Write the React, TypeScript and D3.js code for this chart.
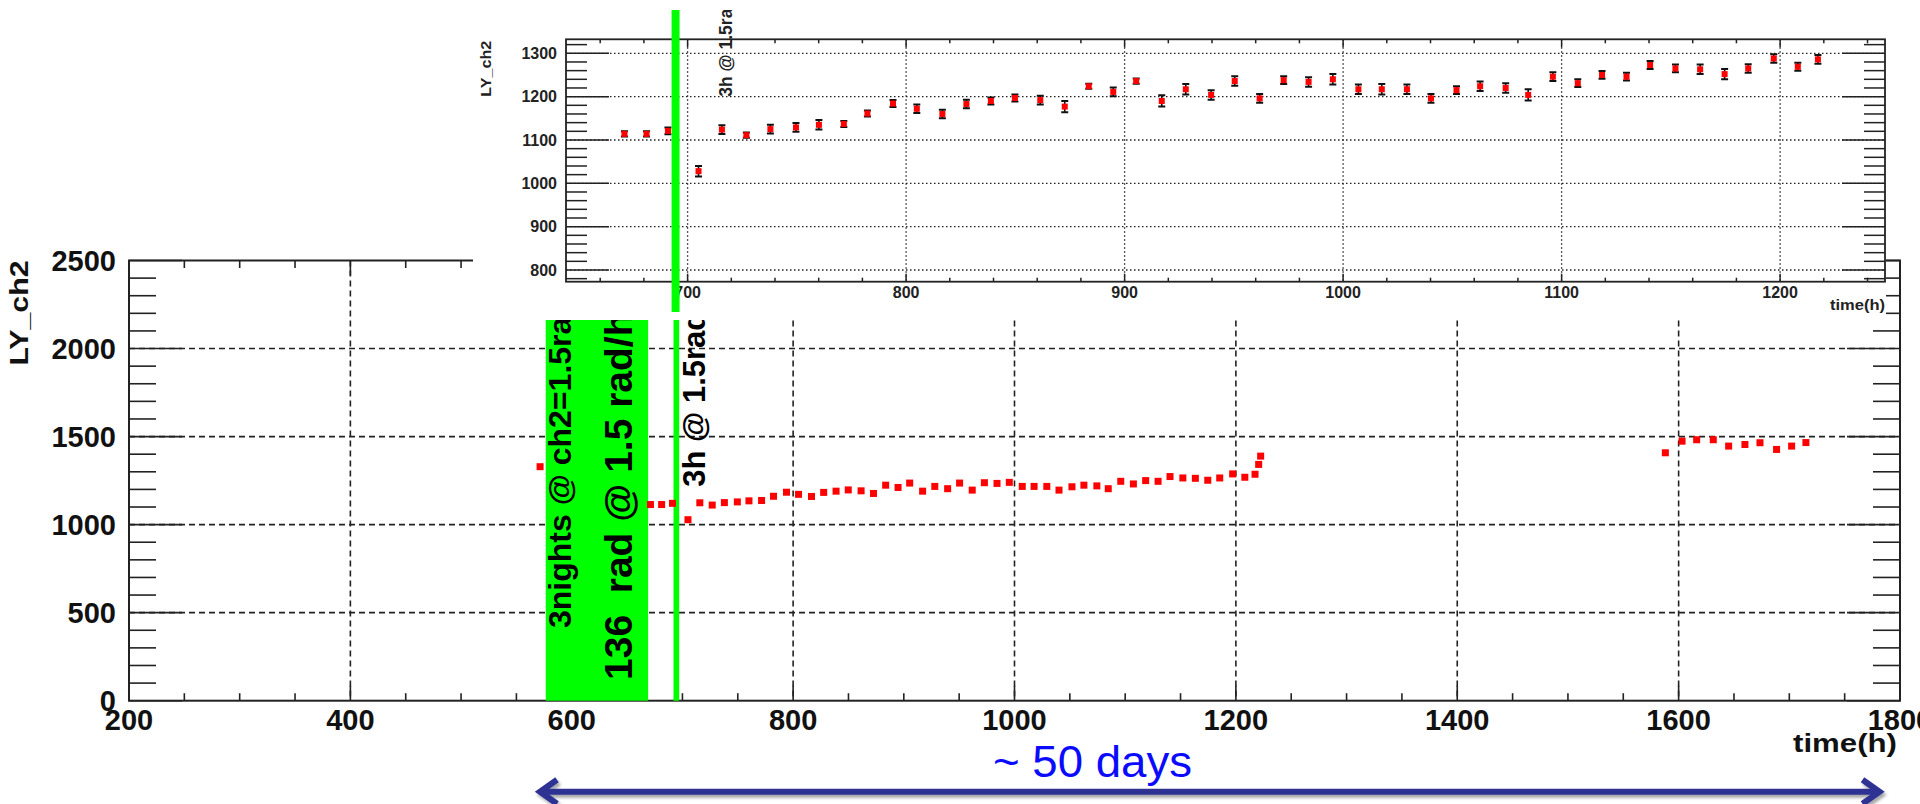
import React from 'react';
import * as d3 from 'd3';

// LY_ch2 vs time, one series; the inset shows the same points with errors
const timeH = [
  571.4,
  671.1, 681.2, 691.0, 705.0, 715.7, 726.9, 737.9, 749.6, 760.1, 771.5,
  782.3, 794.0, 804.9, 816.6, 827.6, 838.8, 849.8, 861.4, 872.6, 883.6,
  894.8, 905.3, 917.0, 928.0, 939.6, 950.4, 961.8, 972.8, 984.2, 995.3,
  1007.0, 1017.7, 1029.2, 1040.2, 1051.9, 1062.7, 1074.4, 1084.7, 1096.0, 1107.4,
  1118.5, 1129.7, 1140.5, 1152.1, 1163.4, 1174.6, 1185.4, 1197.1, 1208.1, 1217.3,
  1220.6, 1222.4,
  1588.0, 1603.1, 1616.3, 1631.3, 1645.2, 1659.9, 1673.5, 1688.5, 1702.1, 1715.0,
];
const lyCh2 = [
  1329,
  1114, 1114, 1121, 1028, 1124, 1111, 1125, 1129, 1135, 1137,
  1161, 1184, 1172, 1160, 1183, 1190, 1197, 1192, 1177, 1224,
  1211, 1236, 1190, 1217, 1204, 1236, 1196, 1238, 1234, 1240,
  1217, 1217, 1217, 1196, 1215, 1224, 1220, 1204, 1246, 1231,
  1250, 1246, 1273, 1265, 1263, 1252, 1265, 1288, 1269, 1286,
  1342, 1389,
  1408, 1474, 1482, 1482, 1446, 1455, 1465, 1427, 1446, 1466,
];
const lyErr = [
  10,
  6, 6, 8, 12, 10, 6, 10, 10, 11, 7,
  7, 8, 10, 10, 10, 8, 8, 10, 13, 6,
  10, 6, 13, 12, 11, 11, 10, 9, 11, 12,
  11, 12, 11, 10, 9, 11, 11, 13, 10, 9,
  9, 9, 9, 9, 11, 12, 10, 10, 9, 10,
  10, 10,
  10, 10, 10, 10, 10, 10, 10, 10, 10, 10,
];

const mainXTicks = [200, 400, 600, 800, 1000, 1200, 1400, 1600, 1800];
const mainYTicks = [0, 500, 1000, 1500, 2000, 2500];
const insetXTicks = [700, 800, 900, 1000, 1100, 1200];
const insetYTicks = [800, 900, 1000, 1100, 1200, 1300];

// irradiation periods (time in h)
const bandFrom = 576.5;
const bandTo = 669;
const shortIrr = 694.5;

const W = 1920;
const H = 804;
const main = { left: 129, right: 1900, top: 260.5, bottom: 700.7 };
const inset = { left: 566, right: 1885, top: 39.3, bottom: 281.7 };
const pad = { x0: 473, x1: 1886, y0: 0, y1: 320 };

const font = '"Liberation Sans", Arial, Helvetica, sans-serif';
const green = '#00ff00';
const red = '#ff0000';
const arrowCol = 'rgb(46,49,146)';

export default function App() {
  const x = d3.scaleLinear().domain([200, 1800]).range([main.left, main.right]);
  const y = d3.scaleLinear().domain([0, 2500]).range([main.bottom, main.top]);
  const xi = d3.scaleLinear().domain([644.35, 1248]).range([inset.left, inset.right]);
  const yi = d3.scaleLinear().domain([773, 1332.3]).range([inset.bottom, inset.top]);

  const pts = timeH.map((t, i) => ({ t, v: lyCh2[i], e: lyErr[i] }));
  const insetPts = pts.filter(p => p.t >= 644.35 && p.t <= 1248 && p.v >= 773 && p.v <= 1332.3);

  const mainYMinor = d3.range(0, 2501, 100);
  const mainXMinor = d3.range(200, 1801, 50);
  const insetYMinor = d3.range(780, 1332, 20);
  const insetXMinor = d3.range(660, 1248, 20);

  const arrowY = 791.7;
  const arrowL = 537;
  const arrowR = 1882.5;

  return (
    <svg width={W} height={H} style={{ position: 'absolute', left: 0, top: 0, background: '#fff' }}
      fontFamily={font}>
      <defs>
        <filter id="shadow" x="-5%" y="-100%" width="110%" height="300%">
          <feDropShadow dx="2" dy="3" stdDeviation="1.6" floodColor="#000" floodOpacity="0.35" />
        </filter>
        <clipPath id="insetClip">
          <rect x={inset.left} y={inset.top} width={inset.right - inset.left} height={inset.bottom - inset.top} />
        </clipPath>
        <clipPath id="topClip">
          <rect x={0} y={10} width={W} height={H} />
        </clipPath>
      </defs>

      {/* main grid */}
      <g stroke="#222" strokeWidth={1.6} strokeDasharray="6 4">
        {mainXTicks.slice(1, -1).map(t => (
          <line key={'gx' + t} x1={x(t)} x2={x(t)} y1={main.top} y2={main.bottom} />
        ))}
        {mainYTicks.slice(1, -1).map(v => (
          <line key={'gy' + v} x1={main.left} x2={main.right} y1={y(v)} y2={y(v)} />
        ))}
      </g>

      {/* main ticks */}
      <g stroke="#222" strokeWidth={1.6}>
        {mainYMinor.map(v => {
          const len = v % 500 === 0 ? 53 : 27;
          return (
            <g key={'ty' + v}>
              <line x1={main.left} x2={main.left + len} y1={y(v)} y2={y(v)} />
              <line x1={main.right} x2={main.right - len} y1={y(v)} y2={y(v)} />
            </g>
          );
        })}
        {mainXMinor.map(t => {
          const len = t % 200 === 0 ? 15 : 7.5;
          return (
            <g key={'tx' + t}>
              <line x1={x(t)} x2={x(t)} y1={main.bottom} y2={main.bottom - len} />
              <line x1={x(t)} x2={x(t)} y1={main.top} y2={main.top + len} />
            </g>
          );
        })}
      </g>
      <rect x={main.left} y={main.top} width={main.right - main.left} height={main.bottom - main.top}
        fill="none" stroke="#222" strokeWidth={2} />

      {/* main labels */}
      <g fontWeight="bold" fontSize={29} fill="#111">
        {mainYTicks.map(v => (
          <text key={'ly' + v} x={116} y={y(v)} dy="0.35em" textAnchor="end">{v}</text>
        ))}
        {mainXTicks.map(t => (
          <text key={'lx' + t} x={x(t)} y={730} textAnchor="middle">{t}</text>
        ))}
      </g>
      <text transform={`translate(28,${main.top}) rotate(-90)`} textAnchor="end" fontWeight="bold"
        fontSize={25} textLength={105} lengthAdjust="spacingAndGlyphs" fill="#111">LY_ch2</text>
      <text x={1897} y={751.5} textAnchor="end" fontWeight="bold" fontSize={25} textLength={104}
        lengthAdjust="spacingAndGlyphs" fill="#111">time(h)</text>

      {/* irradiation marks */}
      <rect x={x(bandFrom)} y={main.top} width={x(bandTo) - x(bandFrom)} height={main.bottom - main.top} fill={green} />
      <line x1={x(shortIrr)} x2={x(shortIrr)} y1={main.top} y2={main.bottom} stroke={green} strokeWidth={5.7} />

      {/* main points */}
      <g fill={red}>
        {pts.map(p => (
          <rect key={'m' + p.t} x={x(p.t) - 3.5} y={y(p.v) - 3.5} width={7} height={7} />
        ))}
      </g>

      {/* annotations in main pad */}
      <g fontWeight="bold" fill="#000">
        <text transform="translate(571,628) rotate(-90)" fontSize={32}>3nights @ ch2=1.5rad/h</text>
        <text transform="translate(631.5,680) rotate(-90)" fontSize={39} style={{ whiteSpace: 'pre' }}>136  rad @ 1.5 rad/h</text>
        <text transform="translate(705,486.7) rotate(-90)" fontSize={31}>3h @ 1.5rad</text>
      </g>

      {/* inset pad */}
      <rect x={pad.x0} y={pad.y0} width={pad.x1 - pad.x0} height={pad.y1 - pad.y0} fill="#fff" />

      <g stroke="#222" strokeWidth={1.3} strokeDasharray="1.5 2.5">
        {insetXTicks.map(t => (
          <line key={'igx' + t} x1={xi(t)} x2={xi(t)} y1={inset.top} y2={inset.bottom} />
        ))}
        {insetYTicks.map(v => (
          <line key={'igy' + v} x1={inset.left} x2={inset.right} y1={yi(v)} y2={yi(v)} />
        ))}
      </g>
      <g stroke="#222" strokeWidth={1.5}>
        {insetYMinor.map(v => {
          const len = v % 100 === 0 ? 43 : 21;
          return (
            <g key={'ity' + v}>
              <line x1={inset.left} x2={inset.left + len} y1={yi(v)} y2={yi(v)} />
              <line x1={inset.right} x2={inset.right - len} y1={yi(v)} y2={yi(v)} />
            </g>
          );
        })}
        {insetXMinor.map(t => {
          const len = t % 100 === 0 ? 8 : 4;
          return (
            <g key={'itx' + t}>
              <line x1={xi(t)} x2={xi(t)} y1={inset.bottom} y2={inset.bottom - len} />
              <line x1={xi(t)} x2={xi(t)} y1={inset.top} y2={inset.top + len} />
            </g>
          );
        })}
      </g>
      <rect x={inset.left} y={inset.top} width={inset.right - inset.left} height={inset.bottom - inset.top}
        fill="none" stroke="#222" strokeWidth={1.8} />

      <g clipPath="url(#insetClip)">
        <g stroke="#111" strokeWidth={1.6}>
          {insetPts.map(p => (
            <g key={'e' + p.t}>
              <line x1={xi(p.t)} x2={xi(p.t)} y1={yi(p.v - p.e)} y2={yi(p.v + p.e)} />
              <line x1={xi(p.t) - 3.5} x2={xi(p.t) + 3.5} y1={yi(p.v - p.e)} y2={yi(p.v - p.e)} strokeWidth={2} />
              <line x1={xi(p.t) - 3.5} x2={xi(p.t) + 3.5} y1={yi(p.v + p.e)} y2={yi(p.v + p.e)} strokeWidth={2} />
            </g>
          ))}
        </g>
        <g fill={red}>
          {insetPts.map(p => (
            <rect key={'i' + p.t} x={xi(p.t) - 3} y={yi(p.v) - 3} width={6} height={6} />
          ))}
        </g>
      </g>

      <g fontWeight="bold" fontSize={16} fill="#222">
        {insetYTicks.map(v => (
          <text key={'ily' + v} x={557} y={yi(v)} dy="0.35em" textAnchor="end">{v}</text>
        ))}
        {insetXTicks.map(t => (
          <text key={'ilx' + t} x={xi(t)} y={297.5} textAnchor="middle">{t}</text>
        ))}
      </g>
      <text transform={`translate(490.5,40.7) rotate(-90)`} textAnchor="end" fontWeight="bold" fontSize={15}
        textLength={56} lengthAdjust="spacingAndGlyphs" fill="#222">LY_ch2</text>
      <text x={1885} y={309.5} textAnchor="end" fontWeight="bold" fontSize={14} textLength={55}
        lengthAdjust="spacingAndGlyphs" fill="#222">time(h)</text>

      <line x1={xi(shortIrr)} x2={xi(shortIrr)} y1={10} y2={312} stroke={green} strokeWidth={8} />
      <g clipPath="url(#topClip)">
        <text transform="translate(732,96.7) rotate(-90)" fontWeight="bold" fontSize={17.5} fill="#222">3h @ 1.5rad</text>
      </g>

      {/* duration arrow */}
      <text x={993} y={776.7} fontSize={44} fill="#0a0aff" textLength={199} lengthAdjust="spacingAndGlyphs"
        fontFamily='"Liberation Sans Narrow", "Liberation Sans", sans-serif'>~ 50 days</text>
      <g filter="url(#shadow)" stroke={arrowCol} strokeWidth={6} fill="none" strokeLinejoin="miter">
        <line x1={arrowL + 3} x2={arrowR - 3} y1={arrowY} y2={arrowY} />
        <polyline points={`${arrowL + 20},${arrowY - 12} ${arrowL + 3},${arrowY} ${arrowL + 20},${arrowY + 12}`} />
        <polyline points={`${arrowR - 20},${arrowY - 12} ${arrowR - 3},${arrowY} ${arrowR - 20},${arrowY + 12}`} />
      </g>
    </svg>
  );
}
